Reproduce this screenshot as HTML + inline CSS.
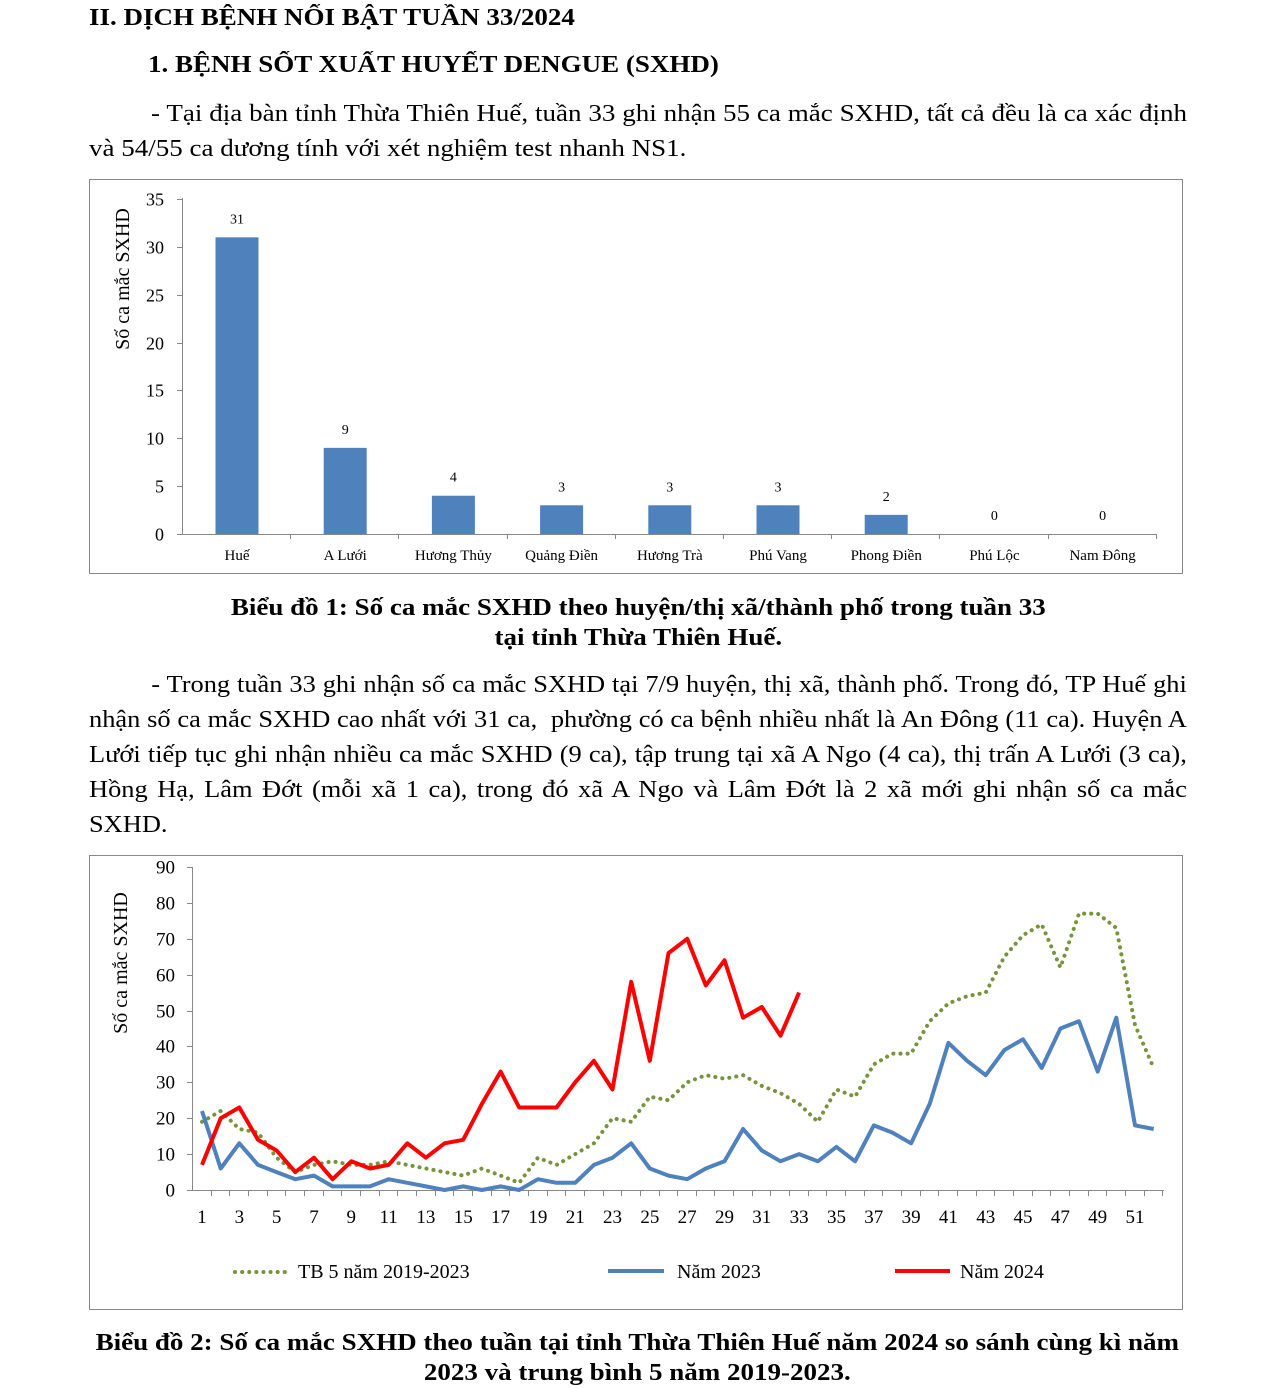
<!DOCTYPE html>
<html><head><meta charset="utf-8"><style>
body{margin:0;width:1275px;height:1386px;background:#fff;font-family:"Liberation Serif",serif;color:#000;position:relative;overflow:hidden}
.a{position:absolute;transform:scaleX(1.125);transform-origin:0 0;white-space:nowrap}
.p{position:absolute;left:89px;width:976px;font-size:24px;line-height:35px;text-align:justify;transform:scaleX(1.125);transform-origin:0 0}
.h{font-weight:bold;font-size:24px}
.cap{position:absolute;left:0;width:1133px;text-align:center;font-weight:bold;font-size:24px;line-height:30px;transform:scaleX(1.125);transform-origin:0 0}
svg text{font-family:"Liberation Serif",serif}
</style></head><body>
<div class="a h" style="left:89px;top:5px">II. DỊCH BỆNH NỔI BẬT TUẦN 33/2024</div>
<div class="a h" style="left:148px;top:52px">1. BỆNH SỐT XUẤT HUYẾT DENGUE (SXHD)</div>
<div class="p" style="top:97px">&nbsp;&nbsp;&nbsp;&nbsp;&nbsp;&nbsp;&nbsp;&nbsp;&nbsp;- Tại địa bàn tỉnh Thừa Thiên Huế, tuần 33 ghi nhận 55 ca mắc SXHD, tất cả đều là ca xác định và 54/55 ca dương tính với xét nghiệm test nhanh NS1.</div>

<svg style="position:absolute;left:0;top:0" width="1275" height="1386">
<rect x="89.5" y="179.5" width="1093" height="394" fill="none" stroke="#888"/>
<g id="c1"></g>
<rect x="89.5" y="855.5" width="1093" height="454" fill="none" stroke="#888"/>
<g id="c2"></g>
</svg>

<div class="cap" style="top:593px;left:1px">Biểu đồ 1: Số ca mắc SXHD theo huyện/thị xã/thành phố trong tuần 33<br>tại tỉnh Thừa Thiên Huế.</div>
<div class="p" style="top:668px;width:998px;transform:scaleX(1.1)">&nbsp;&nbsp;&nbsp;&nbsp;&nbsp;&nbsp;&nbsp;&nbsp;&nbsp;- Trong tuần 33 ghi nhận số ca mắc SXHD tại 7/9 huyện, thị xã, thành phố. Trong đó, TP Huế ghi nhận số ca mắc SXHD cao nhất với 31 ca,&nbsp; phường có ca bệnh nhiều nhất là An Đông (11 ca). Huyện A Lưới tiếp tục ghi nhận nhiều ca mắc SXHD (9 ca), tập trung tại xã A Ngo (4 ca), thị trấn A Lưới (3 ca), Hồng Hạ, Lâm Đớt (mỗi xã 1 ca), trong đó xã A Ngo và Lâm Đớt là 2 xã mới ghi nhận số ca mắc SXHD.</div>
<div class="cap" style="top:1328px">Biểu đồ 2: Số ca mắc SXHD theo tuần tại tỉnh Thừa Thiên Huế năm 2024 so sánh cùng kì năm<br>2023 và trung bình 5 năm 2019-2023.</div>

<script>
var NS="http://www.w3.org/2000/svg";
function el(p,t,a,txt){var e=document.createElementNS(NS,t);for(var k in a)e.setAttribute(k,a[k]);if(txt!==undefined)e.textContent=txt;p.appendChild(e);return e;}
var g=document.getElementById('c1');
var y0=534,s=9.57;
el(g,'line',{x1:182.5,y1:198,x2:182.5,y2:y0,stroke:'#888'});
el(g,'line',{x1:182,y1:y0+.5,x2:1156,y2:y0+.5,stroke:'#888'});
for(var v=0;v<=35;v+=5){var y=Math.round(y0-v*s)+.5;el(g,'line',{x1:177,y1:y,x2:182,y2:y,stroke:'#888'});el(g,'text',{x:164,y:y+6,'font-size':18,'text-anchor':'end'},v);}
var names=['Huế','A Lưới','Hương Thủy','Quảng Điền','Hương Trà','Phú Vang','Phong Điền','Phú Lộc','Nam Đông'],vals=[31,9,4,3,3,3,2,0,0];
for(var i=0;i<9;i++){var cx=237+i*108.2;var h=vals[i]*s;
el(g,'rect',{x:cx-21.5,y:y0-h,width:43,height:h,fill:'#4f81bd'});
el(g,'text',{x:cx,y:y0-h-14,'font-size':14,'text-anchor':'middle'},vals[i]);
el(g,'text',{x:cx,y:560,'font-size':15,'text-anchor':'middle'},names[i]);
var tx=Math.round(182+(i+1)*108.2)+.5;el(g,'line',{x1:tx,y1:y0,x2:tx,y2:y0+5,stroke:'#888'});}
el(g,'text',{transform:'translate(129,279) rotate(-90)','font-size':20,'text-anchor':'middle'},'Số ca mắc SXHD');
g=document.getElementById('c2');
var Y0=1190,S=3.589,X1=202,W=18.66;
el(g,'line',{x1:192.5,y1:867,x2:192.5,y2:Y0,stroke:'#888'});
el(g,'line',{x1:192,y1:Y0+.5,x2:1164,y2:Y0+.5,stroke:'#888'});
for(var v=0;v<=90;v+=10){var y=Math.round(Y0-v*S)+.5;el(g,'line',{x1:187,y1:y,x2:192,y2:y,stroke:'#888'});el(g,'text',{x:175,y:y+6,'font-size':19,'text-anchor':'end'},v);}
for(var w=1;w<=52;w++){var tx=Math.round(192+w*W)+.5;el(g,'line',{x1:tx,y1:Y0,x2:tx,y2:Y0+6,stroke:'#888'});
if(w%2==1)el(g,'text',{x:X1+(w-1)*W,y:1223,'font-size':19,'text-anchor':'middle'},w);}
function pts(a){return a.map(function(v,i){return (X1+i*W).toFixed(1)+','+(Y0-v*S).toFixed(1)}).join(' ');}
var tb=[19,22,17,16,9,5,7,8,7,7,8,7,6,5,4,6,4,2,9,7,10,13,20,19,26,25,30,32,31,32,29,27,24,19,28,26,35,38,38,47,52,54,55,65,71,74,62,77,77,73,46,34];
var b=[22,6,13,7,5,3,4,1,1,1,3,2,1,0,1,0,1,0,3,2,2,7,9,13,6,4,3,6,8,17,11,8,10,8,12,8,18,16,13,24,41,36,32,39,42,34,45,47,33,48,18,17];
var r=[7,20,23,14,11,5,9,3,8,6,7,13,9,13,14,24,33,23,23,23,30,36,28,58,36,66,70,57,64,48,51,43,55];
el(g,'polyline',{points:pts(tb),fill:'none',stroke:'#77933c','stroke-width':4,'stroke-dasharray':'0.1 7','stroke-linecap':'round','stroke-linejoin':'round'});
el(g,'polyline',{points:pts(b),fill:'none',stroke:'#4f81bd','stroke-width':4,'stroke-linejoin':'round'});
el(g,'polyline',{points:pts(r),fill:'none',stroke:'#ff0000','stroke-width':4,'stroke-linejoin':'round'});
el(g,'line',{x1:235,y1:1272,x2:288,y2:1272,stroke:'#77933c','stroke-width':4,'stroke-dasharray':'0.1 7','stroke-linecap':'round'});
el(g,'text',{x:298,y:1278,'font-size':20},'TB 5 năm 2019-2023');
el(g,'line',{x1:608,y1:1271,x2:664,y2:1271,stroke:'#4f81bd','stroke-width':4});
el(g,'text',{x:677,y:1278,'font-size':20},'Năm 2023');
el(g,'line',{x1:895,y1:1271,x2:950,y2:1271,stroke:'#ff0000','stroke-width':4});
el(g,'text',{x:960,y:1278,'font-size':20},'Năm 2024');
el(g,'text',{transform:'translate(127,963) rotate(-90)','font-size':20,'text-anchor':'middle'},'Số ca mắc SXHD');
</script>
</body></html>
